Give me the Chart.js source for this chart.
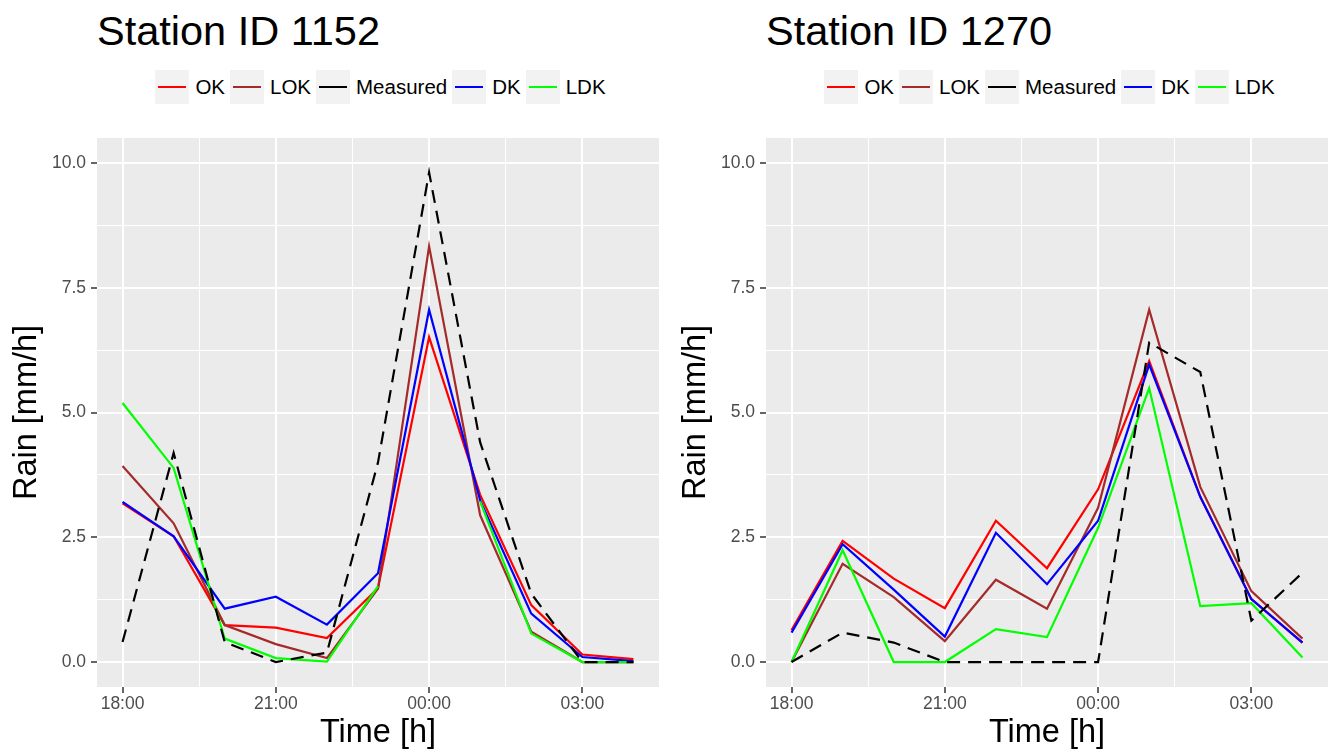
<!DOCTYPE html>
<html>
<head>
<meta charset="utf-8">
<script src="https://cdn.jsdelivr.net/npm/chart.js@4"></script>
<style>
  body { margin: 0; background: #fff; font-family: "Liberation Sans", Arial, Helvetica, sans-serif; }
  #wrap { position: relative; width: 1328px; height: 753px; overflow: hidden; }
  .title { position: absolute; top: 10px; font-size: 41.5px; line-height: 41px; color: #000; white-space: nowrap; }
  .legend { position: absolute; top: 70px; width: 562px; padding-left: 10px; box-sizing: border-box; display: flex; justify-content: center; font-size: 20.5px; }
  .item { display: flex; align-items: center; height: 34px; }
  .key { width: 34px; height: 34px; background: #f2f2f2; position: relative; }
  .key span { position: absolute; left: 3px; right: 3px; top: 16px; height: 2px; }
  .lab { margin: 0 5px 0 6px; color: #000; }
  canvas { position: absolute; top: 120px; }
</style>
</head>
<body>
<div id="wrap">
  <div class="title" style="left:97px">Station ID 1152</div>
  <div class="title" style="left:766px">Station ID 1270</div>
  <div class="legend" id="leg1" style="left:97px"></div>
  <div class="legend" id="leg2" style="left:766px"></div>
  <canvas id="c1" width="666" height="633" style="left:0px"></canvas>
  <canvas id="c2" width="659" height="633" style="left:669px"></canvas>
</div>
<script>
// x categories (hourly)
const times = ['18:00', '19:00', '20:00', '21:00', '22:00', '23:00', '00:00', '01:00', '02:00', '03:00', '04:00'];
const xGrid = [0, 1.5, 3, 4.5, 6, 7.5, 9];
const yGrid = [0, 1.25, 2.5, 3.75, 5, 6.25, 7.5, 8.75, 10];

// station 1152
const ok1152 = [3.18, 2.52, 0.74, 0.69, 0.48, 1.48, 6.51, 3.35, 1.14, 0.15, 0.06];
const lok1152 = [3.93, 2.78, 0.74, 0.36, 0.08, 1.47, 8.33, 2.94, 0.61, 0.0, 0.0];
const meas1152 = [0.40, 4.19, 0.40, 0.0, 0.19, 4.0, 9.81, 4.4, 1.37, 0.0, 0.0];
const dk1152 = [3.21, 2.52, 1.07, 1.31, 0.75, 1.78, 7.06, 3.24, 0.97, 0.10, 0.02];
const ldk1152 = [5.19, 3.89, 0.47, 0.08, 0.01, 1.52, null, 3.22, 0.57, 0.0, 0.0];

// station 1270
const ok1270 = [0.64, 2.43, 1.67, 1.08, 2.83, 1.88, 3.46, 6.03, 3.31, 1.26, 0.39];
const lok1270 = [0.0, 1.97, 1.30, 0.42, 1.65, 1.07, 3.09, 7.06, 3.51, 1.42, 0.47];
const meas1270 = [0.0, 0.59, 0.39, 0.0, 0.0, 0.0, 0.0, 6.40, 5.81, 0.83, 1.79];
const dk1270 = [0.59, 2.36, 1.45, 0.51, 2.59, 1.56, 2.83, 5.96, 3.31, 1.26, 0.39];
const ldk1270 = [0.0, 2.24, 0.0, 0.0, 0.66, 0.50, 2.69, 5.49, 1.12, 1.18, 0.09];

const series = ['OK', 'LOK', 'Measured', 'DK', 'LDK'];
const colors = ['#ff0000', '#a52a2a', '#000000', '#0000ff', '#00ff00'];
const drawOrder = [4, 3, 0, 2, 1]; // measured on top, then LDK, DK, LOK, OK

const panelBg = {
  id: 'panelBg',
  beforeDraw(chart) {
    const { ctx, chartArea: a } = chart;
    ctx.save();
    ctx.fillStyle = '#ebebeb';
    ctx.fillRect(a.left, a.top, a.right - a.left, a.bottom - a.top);
    ctx.restore();
  }
};

function buildLegend(id) {
  const el = document.getElementById(id);
  series.forEach((s, i) => {
    const item = document.createElement('div');
    item.className = 'item';
    item.innerHTML = `<div class="key"><span style="background:${colors[i]}"></span></div><div class="lab">${s}</div>`;
    el.appendChild(item);
  });
}

function makeChart(id, values, padRight) {
  const datasets = values.map((vals, i) => ({
    label: series[i],
    data: times.map((t, j) => ({ x: j, y: vals[j] })),
    borderColor: colors[i],
    borderWidth: 2.2,
    borderDash: series[i] === 'Measured' ? [13, 8] : [],
    pointRadius: 0,
    tension: 0,
    spanGaps: false,
    order: drawOrder[i]
  }));
  const major = (c, n) => c.tick && Math.abs(c.tick.value / n - Math.round(c.tick.value / n)) < 1e-9;
  const font = size => ({ size, family: '"Liberation Sans", Arial' });
  return new Chart(document.getElementById(id), {
    type: 'line',
    data: { datasets },
    plugins: [panelBg],
    options: {
      responsive: false,
      animation: false,
      layout: { padding: { top: 18, right: padRight, left: 0, bottom: 0 } },
      plugins: { legend: { display: false }, tooltip: { enabled: false } },
      scales: {
        x: {
          type: 'linear', min: -0.5, max: 10.5,
          afterBuildTicks: s => { s.ticks = xGrid.map(v => ({ value: v })); },
          afterFit: s => { s.height = 66; },
          border: { display: false },
          grid: {
            color: '#ffffff',
            lineWidth: c => major(c, 3) ? 2 : 1,
            tickColor: c => major(c, 3) ? '#333333' : 'rgba(0,0,0,0)',
            tickLength: 6, tickWidth: 1.5
          },
          ticks: {
            autoSkip: false, maxRotation: 0, padding: 1,
            color: '#4d4d4d', font: font(17.5),
            callback: v => (v % 3 === 0 ? times[v] : '')
          },
          title: { display: true, text: 'Time [h]', color: '#000', font: font(32.5), padding: { top: 1, bottom: 0 } }
        },
        y: {
          type: 'linear', min: -0.5, max: 10.5,
          afterBuildTicks: s => { s.ticks = yGrid.map(v => ({ value: v })); },
          afterFit: s => { s.width = 97; },
          border: { display: false },
          grid: {
            color: '#ffffff',
            lineWidth: c => major(c, 2.5) ? 2 : 1,
            tickColor: c => major(c, 2.5) ? '#333333' : 'rgba(0,0,0,0)',
            tickLength: 6, tickWidth: 1.5
          },
          ticks: {
            autoSkip: false, padding: 5,
            color: '#4d4d4d', font: font(17.5),
            callback: v => (v % 2.5 === 0 ? v.toFixed(1) : '')
          },
          title: { display: true, text: 'Rain [mm/h]', color: '#000', font: font(32.5), padding: { top: 8, bottom: 0 } }
        }
      }
    }
  });
}

buildLegend('leg1');
buildLegend('leg2');
makeChart('c1', [ok1152, lok1152, meas1152, dk1152, ldk1152], 7);
makeChart('c2', [ok1270, lok1270, meas1270, dk1270, ldk1270], 0);
</script>
</body>
</html>
